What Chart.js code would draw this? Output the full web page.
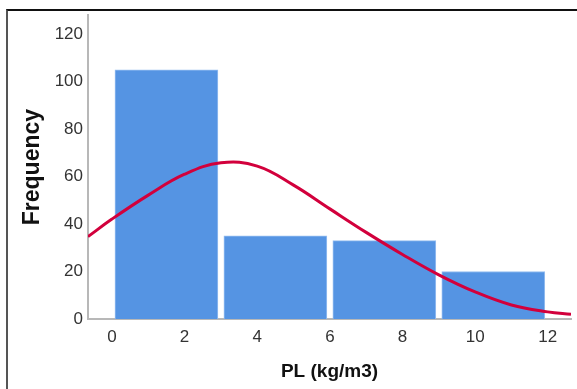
<!DOCTYPE html>
<html>
  <head>
    <meta charset="utf-8" />
    <script src="https://cdn.jsdelivr.net/npm/chart.js@4.4.1/dist/chart.umd.min.js"></script>
    <style>
      body {
        margin: 0;
        background: #fff;
      }
      .wrap {
        position: relative;
        width: 577px;
        height: 389px;
        overflow: hidden;
      }
      .frame {
        position: absolute;
        left: 6px;
        top: 9px;
        width: 600px;
        height: 400px;
        border-left: 2px solid #555;
        border-top: 2px solid #111;
        pointer-events: none;
      }
    </style>
  </head>
  <body>
    <div class="wrap">
      <canvas id="chart" width="577" height="389"></canvas>
      <div class="frame"></div>
    </div>

    <script>
      // histogram bins (PL, kg/m3) and counts
      const bin_edges = [0, 3, 6, 9, 12];
      const counts = [105, 35, 33, 20];

      // normal curve
      const curve_x = [-0.66, 0, 1, 2, 3, 4, 5, 6, 7, 8, 9, 10, 11, 12, 12.64];
      const curve_y = [34.7, 42.1, 52.2, 61.0, 65.8, 64.4, 56.4, 46.4, 36.5, 27.2, 18.6, 11.4, 5.9, 3.0, 2.0];

      const x_ticks = [0, 2, 4, 6, 8, 10, 12];
      const y_ticks = [0, 20, 40, 60, 80, 100, 120];

      const font_family = "'Liberation Sans', Arial, sans-serif";

      const bars = counts.map((c, i) => ({
        x: (bin_edges[i] + bin_edges[i + 1]) / 2,
        y: c,
      }));
      const curve = curve_x.map((x, i) => ({ x: x, y: curve_y[i] }));

      new Chart(document.getElementById("chart"), {
        type: "bar",
        data: {
          datasets: [
            {
              type: "line",
              data: curve,
              borderColor: "rgb(210,0,60)",
              borderWidth: 3,
              pointRadius: 0,
              tension: 0.4,
              fill: false,
              order: 0,
            },
            {
              type: "bar",
              data: bars,
              backgroundColor: "rgb(85,148,227)",
              borderColor: "rgb(150,190,240)",
              borderWidth: 1,
              borderSkipped: "bottom",
              barThickness: 103,
              order: 1,
            },
          ],
        },
        options: {
          responsive: false,
          animation: false,
          layout: { padding: { top: 15, right: 6, bottom: 0, left: 0 } },
          plugins: {
            legend: { display: false },
            tooltip: { enabled: false },
          },
          scales: {
            x: {
              type: "linear",
              min: -0.66,
              max: 12.64,
              offset: false,
              grid: { display: false, drawTicks: false },
              border: { display: true, color: "#b8b8b8", width: 2 },
              afterBuildTicks: (scale) => {
                scale.ticks = x_ticks.map((v) => ({ value: v }));
              },
              afterFit: (scale) => {
                scale.height = 70;
              },
              ticks: {
                padding: 8,
                color: "#333",
                font: { family: font_family, size: 17 },
              },
              title: {
                display: true,
                text: "PL (kg/m3)",
                color: "#111",
                padding: { top: 0, bottom: 6 },
                font: { family: font_family, size: 19, weight: "bold" },
              },
            },
            y: {
              min: 0,
              max: 128,
              grid: { display: false, drawTicks: false },
              border: { display: true, color: "#b8b8b8", width: 2 },
              afterBuildTicks: (scale) => {
                scale.ticks = y_ticks.map((v) => ({ value: v }));
              },
              afterFit: (scale) => {
                scale.width = 88;
              },
              ticks: {
                padding: 5,
                color: "#333",
                font: { family: font_family, size: 17 },
              },
              title: {
                display: true,
                text: "Frequency",
                color: "#111",
                padding: { top: 19, bottom: 0 },
                font: { family: font_family, size: 23, weight: "bold" },
              },
            },
          },
        },
      });
    </script>
  </body>
</html>
